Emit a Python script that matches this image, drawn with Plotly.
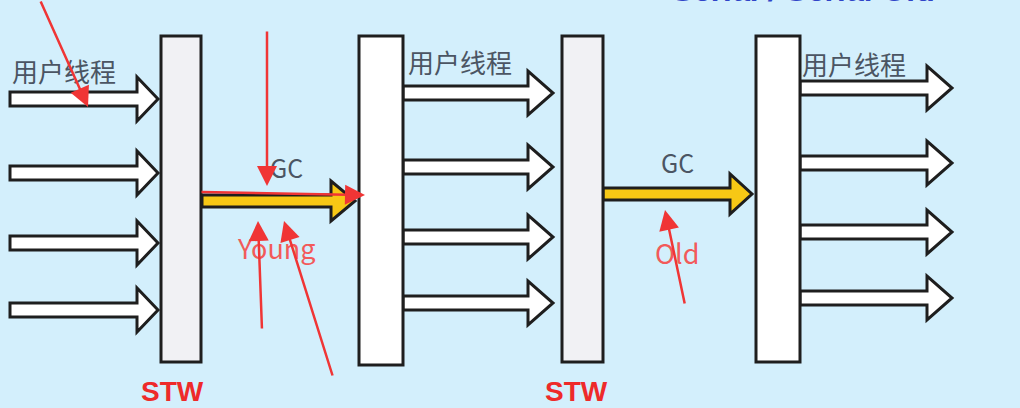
import plotly.graph_objects as go

# 画布 (像素坐标)
W, H = 1020, 408

# 文本与分组数据
thread_label = "用户线程"
gc_label = "GC"
gen_labels = ["Young", "Old"]
stw_label = "STW"
title_text = "Serial / Serial Old"

# 四根竖条 (用户线程暂停点)
bar_left = [161, 359, 562, 756]
bar_right = [201, 403, 603, 800]
bar_top = [36, 36, 36, 36]
bar_bottom = [362, 365, 362, 362]
bar_fill = ["#f1f1f4", "#ffffff", "#f1f1f4", "#ffffff"]

# 三组用户线程箭头: 起点, 头部起点, 尖端, 各行中心
group_x0 = [10, 403, 800]
group_xh = [137, 528, 927]
group_xt = [158, 553, 952]
group_rows = [
    [99, 173, 243, 310],
    [93, 167, 237, 303],
    [88, 163, 232, 298],
]

# GC 箭头 (黄色)
gc_x0 = [202, 603]
gc_xh = [331, 730]
gc_xt = [355, 752]
gc_y = [201, 194]

# 红色手写标注箭头: (起点x, 起点y, 终点x, 终点y)
pen_x0 = [40, 267, 200, 262, 333, 685]
pen_y0 = [0, 30, 192, 330, 377, 305]
pen_x1 = [88, 267, 365, 258, 284, 665]
pen_y1 = [107, 186, 195, 221, 221, 210]


def block_arrow(x0, xh, xt, yc, s, h):
    return (f"M {x0},{yc - s} L {xh},{yc - s} L {xh},{yc - h} L {xt},{yc} "
            f"L {xh},{yc + h} L {xh},{yc + s} L {x0},{yc + s} Z")


fig = go.Figure()
fig.add_trace(go.Scatter(x=[0, W], y=[0, H], mode="markers",
                         marker=dict(opacity=0), hoverinfo="skip", showlegend=False))

shapes = []
# 用户线程箭头
for g in range(3):
    for yc in group_rows[g]:
        shapes.append(dict(type="path", xref="x", yref="y",
                           path=block_arrow(group_x0[g], group_xh[g], group_xt[g], yc, 7, 22),
                           fillcolor="#ffffff", line=dict(color="#1e1e1e", width=3)))
# GC 箭头
for i in range(2):
    shapes.append(dict(type="path", xref="x", yref="y",
                       path=block_arrow(gc_x0[i], gc_xh[i], gc_xt[i], gc_y[i], 6, 20),
                       fillcolor="#f7c815", line=dict(color="#1e1e1e", width=3)))
# 竖条
for i in range(4):
    shapes.append(dict(type="rect", xref="x", yref="y",
                       x0=bar_left[i], x1=bar_right[i], y0=bar_top[i], y1=bar_bottom[i],
                       fillcolor=bar_fill[i], line=dict(color="#1e1e1e", width=3)))

annotations = []
cjk = "Noto Sans CJK SC"
txt_col = "#4b5563"
for g, yc in zip(range(3), [70, 61, 63]):
    xs = [10, 406, 800][g]
    annotations.append(dict(x=xs, y=yc, xref="x", yref="y", text=thread_label,
                            showarrow=False, xanchor="left", yanchor="middle",
                            font=dict(family=cjk, size=26, color=txt_col)))
for xc, yc in zip([286, 677], [167, 162]):
    annotations.append(dict(x=xc, y=yc, xref="x", yref="y", text=gc_label,
                            showarrow=False, font=dict(family=cjk, size=25, color=txt_col)))
for lab, xc, yc in zip(gen_labels, [276, 677], [247, 252]):
    annotations.append(dict(x=xc, y=yc, xref="x", yref="y", text=lab,
                            showarrow=False, font=dict(family=cjk, size=27, color="#f25a5a")))
for xc in [172, 576]:
    annotations.append(dict(x=xc, y=391, xref="x", yref="y", text=f"<b>{stw_label}</b>",
                            showarrow=False, font=dict(family="Liberation Sans", size=28, color="#ee2a2a")))
# 顶部被裁掉的标题 (只露出下沿)
annotations.append(dict(x=805 / W, y=1, xref="paper", yref="paper", text=f"<b><i>{title_text}</i></b>",
                        showarrow=False, xanchor="center", yanchor="bottom", yshift=-10,
                        font=dict(family="Liberation Sans", size=32, color="#2f45c8")))

# 红色标注箭头
for x0, y0, x1, y1 in zip(pen_x0, pen_y0, pen_x1, pen_y1):
    annotations.append(dict(x=x1, y=y1, ax=x0, ay=y0, xref="x", yref="y", axref="x", ayref="y",
                            text="", showarrow=True, arrowhead=2, arrowsize=1.6, arrowwidth=2.5,
                            arrowcolor="#f03535"))

fig.update_layout(
    width=W, height=H,
    margin=dict(l=0, r=0, t=0, b=0),
    paper_bgcolor="#d3effc", plot_bgcolor="#d3effc",
    xaxis=dict(range=[0, W], visible=False, fixedrange=True),
    yaxis=dict(range=[H, 0], visible=False, fixedrange=True),
    shapes=shapes, annotations=annotations,
    showlegend=False,
)

fig.write_html("out.html", config={"displayModeBar": False},
               post_script="document.body.style.margin='0';document.body.style.padding='0';")
